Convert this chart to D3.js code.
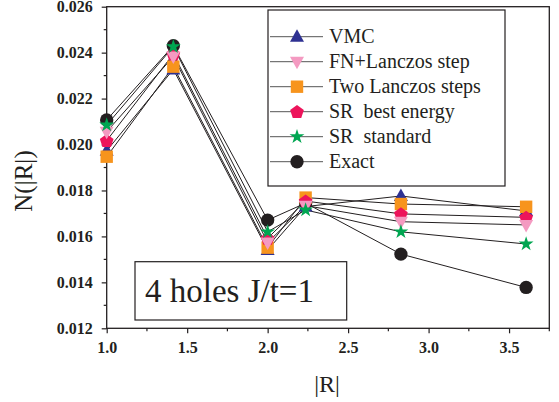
<!DOCTYPE html>
<html><head><meta charset="utf-8">
<script src="https://cdn.jsdelivr.net/npm/d3@7"></script>
<style>body{margin:0;background:#fff}svg{display:block}</style>
</head><body>
<script>
const xValues = [1.0, 1.414, 2.0, 2.236, 2.828, 3.606];
const vmc      = [0.01973, 0.02327, 0.01541, 0.01730, 0.01776, 0.01711];
const fnLanczos= [0.02056, 0.02383, 0.01574, 0.01734, 0.01664, 0.01650];
const twoLanczos=[0.01947, 0.02339, 0.01551, 0.01769, 0.01741, 0.01729];
const srBest   = [0.02017, 0.02394, 0.01592, 0.01754, 0.01698, 0.01683];
const srStd    = [0.02085, 0.02426, 0.01620, 0.01715, 0.01620, 0.01567];
const exact    = [0.02107, 0.02430, 0.01671, 0.01745, 0.01523, 0.01378];
const seriesNames = ["VMC","FN+Lanczos step","Two Lanczos steps","SR  best energy","SR  standard","Exact"];
const xTicks = [1.0,1.5,2.0,2.5,3.0,3.5];
const yTicks = [0.012,0.014,0.016,0.018,0.020,0.022,0.024,0.026];

const W=559,H=402;
const L=106.7,R=549.3,T=6.7,B=328.3;
const svg=d3.select("body").append("svg").attr("width",W).attr("height",H);
const x=d3.scaleLinear().domain([1.0,3.75]).range([L,R]);
const y=d3.scaleLinear().domain([0.012,0.026]).range([B,T]);
const font="'Liberation Serif','Times New Roman',serif";

const series=[
 {name:seriesNames[0],vals:vmc,color:"#2e3192",sym:"triUp"},
 {name:seriesNames[1],vals:fnLanczos,color:"#f49ac1",sym:"triDown"},
 {name:seriesNames[2],vals:twoLanczos,color:"#f7941d",sym:"square"},
 {name:seriesNames[3],vals:srBest,color:"#ed145b",sym:"pent"},
 {name:seriesNames[4],vals:srStd,color:"#00a651",sym:"star"},
 {name:seriesNames[5],vals:exact,color:"#231f20",sym:"circle"}
];
function pentagon(r){
 const p=[];
 for(let i=0;i<5;i++){const a=-Math.PI/2+i*2*Math.PI/5;p.push([r*Math.cos(a),r*Math.sin(a)+0.6]);}
 return "M"+p.join("L")+"Z";
}
function symPath(s){
 switch(s){
  case "triUp": return "M0,-7.5L7,5L-7,5Z";
  case "triDown": return "M0,7.5L7,-5L-7,-5Z";
  case "square": return "M-6.2,-6.2H6.2V6.2H-6.2Z";
  case "pent": return pentagon(7.2);
  case "star": return d3.symbol(d3.symbolStar,68)();
  case "circle": return d3.symbol(d3.symbolCircle,140)();
 }
}

// frame
svg.append("rect").attr("x",L).attr("y",T).attr("width",R-L).attr("height",B-T)
 .attr("fill","none").attr("stroke","#231f20").attr("stroke-width",1.3);

// axes
const xAxis=d3.axisBottom(x).tickValues(xTicks).tickFormat(d3.format(".1f")).tickSize(5).tickPadding(8);
const gx=svg.append("g").attr("transform",`translate(0,${B})`).call(xAxis);
const yAxis=d3.axisLeft(y).tickValues(yTicks).tickFormat(d3.format(".3f")).tickSize(5).tickPadding(9);
const gy=svg.append("g").attr("transform",`translate(${L},0)`).call(yAxis);
[gx,gy].forEach(g=>{g.select(".domain").remove();
 g.selectAll("line").attr("stroke","#231f20").attr("stroke-width",1.2);
 g.selectAll("text").attr("font-family",font).attr("font-weight","bold").attr("font-size",16).attr("fill","#231f20");});
// minor ticks
const xMinor=[1.25,1.75,2.25,2.75,3.25,3.75];
svg.append("g").selectAll("line").data(xMinor).join("line")
 .attr("x1",d=>x(d)).attr("x2",d=>x(d)).attr("y1",B).attr("y2",B+3).attr("stroke","#231f20").attr("stroke-width",1.2);
const yMinor=[0.013,0.015,0.017,0.019,0.021,0.023,0.025];
svg.append("g").selectAll("line").data(yMinor).join("line")
 .attr("y1",d=>y(d)).attr("y2",d=>y(d)).attr("x1",L).attr("x2",L-3).attr("stroke","#231f20").attr("stroke-width",1.2);

// axis titles
svg.append("text").attr("x",327).attr("y",392).attr("text-anchor","middle")
 .attr("font-family",font).attr("font-size",24).attr("fill","#231f20").text("|R|");
svg.append("text").attr("transform",`translate(32,181) rotate(-90)`).attr("text-anchor","middle")
 .attr("font-family",font).attr("font-size",25).attr("fill","#231f20").text("N(|R|)");

// text box
svg.append("rect").attr("x",135).attr("y",261.7).attr("width",211.7).attr("height",58.3)
 .attr("fill","#fff").attr("stroke","#231f20").attr("stroke-width",1.2);
svg.append("text").attr("x",145).attr("y",302).attr("font-family",font).attr("font-size",33).attr("fill","#231f20").text("4 holes J/t=1");

// lines
const line=d3.line().x((d,i)=>x(xValues[i])).y(d=>y(d));
series.forEach(s=>{
 svg.append("path").attr("d",line(s.vals)).attr("fill","none").attr("stroke","#231f20").attr("stroke-width",1);
});
// markers (drawing order: Exact, VMC, Two Lanczos, SR best, FN, SR standard)
const order=[5,0,2,3,1,4];
order.forEach(k=>{
 const s=series[k];
 svg.append("g").selectAll("path").data(s.vals).join("path")
  .attr("transform",(d,i)=>`translate(${x(xValues[i])},${y(d)})`)
  .attr("d",symPath(s.sym)).attr("fill",s.color);
});

// legend
const lg=svg.append("g");
lg.append("rect").attr("x",268).attr("y",10).attr("width",237).attr("height",176)
 .attr("fill","#fff").attr("stroke","#231f20").attr("stroke-width",1.2);
series.forEach((s,i)=>{
 const cy=36.7+i*25;
 lg.append("line").attr("x1",270).attr("x2",323).attr("y1",cy).attr("y2",cy).attr("stroke","#555").attr("stroke-width",1);
 lg.append("path").attr("transform",`translate(297,${cy})`).attr("d",symPath(s.sym)).attr("fill",s.color);
 lg.append("text").attr("x",329).attr("y",cy+6.5).attr("font-family",font).attr("font-size",20)
  .attr("fill","#231f20").attr("style","white-space:pre").text(s.name);
});
</script>
</body></html>
